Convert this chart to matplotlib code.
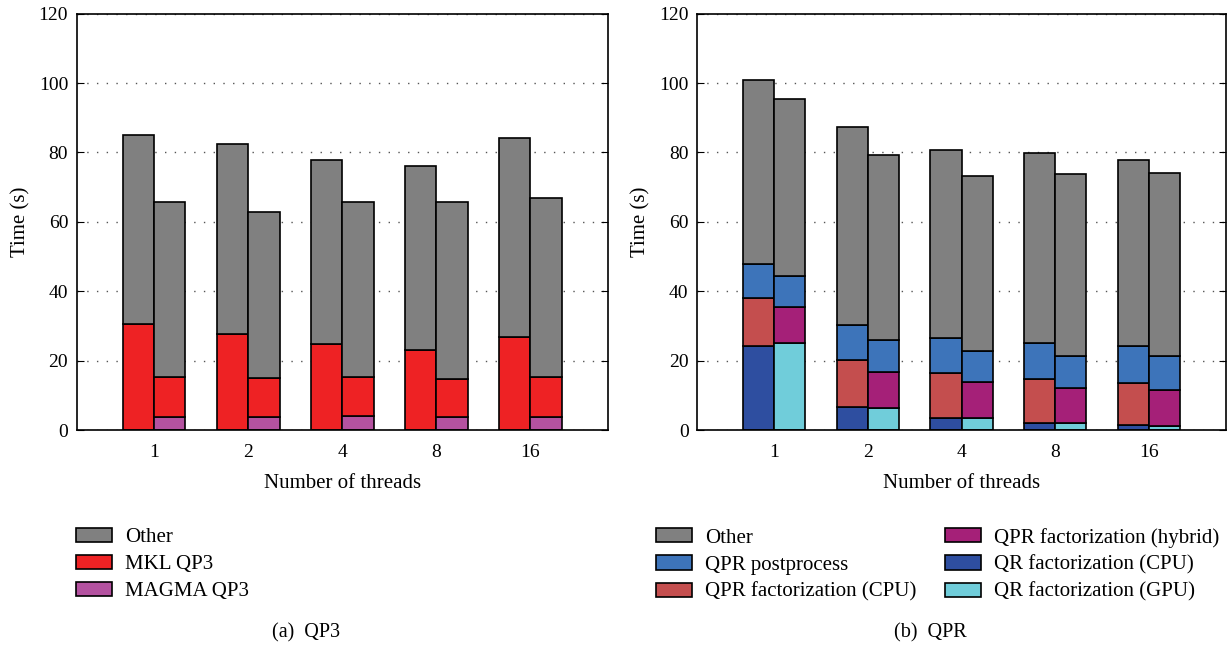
import matplotlib
matplotlib.use("Agg")
import matplotlib.pyplot as plt
import numpy as np
from matplotlib.patches import Patch

plt.rcParams['font.family'] = ['Liberation Serif', 'DejaVu Serif']

threads = ["1", "2", "4", "8", "16"]

# (a) QP3: CPU bar and hybrid bar per thread count
qp3_cpu_mkl = [30.5, 27.7, 24.7, 23.2, 26.8]
qp3_cpu_other = [54.6, 54.7, 53.2, 52.8, 57.4]
qp3_gpu_magma = [3.9, 3.9, 4.0, 3.8, 3.9]
qp3_gpu_mkl = [11.3, 11.2, 11.2, 11.0, 11.3]
qp3_gpu_other = [50.4, 47.7, 50.5, 50.9, 51.7]

# (b) QPR: CPU bar and hybrid bar per thread count
qpr_cpu_qr = [24.4, 6.6, 3.6, 2.2, 1.4]
qpr_cpu_fact = [13.7, 13.6, 12.9, 12.6, 12.3]
qpr_cpu_post = [9.9, 10.1, 10.2, 10.2, 10.5]
qpr_cpu_other = [52.8, 56.9, 53.9, 54.8, 53.5]
qpr_gpu_qr = [25.0, 6.4, 3.4, 2.0, 1.2]
qpr_gpu_fact = [10.6, 10.5, 10.4, 10.3, 10.4]
qpr_gpu_post = [8.8, 9.0, 8.9, 9.0, 9.7]
qpr_gpu_other = [51.1, 53.4, 50.4, 52.6, 52.9]

c_other = '#808080'
c_mkl = '#ee2224'
c_magma = '#b452a0'
c_post = '#3d74ba'
c_qprcpu = '#c44e4e'
c_hybrid = '#a52078'
c_qrcpu = '#2e4ea0'
c_qrgpu = '#70cdda'

fig = plt.figure(figsize=(12.32, 6.46), dpi=100)
ax1 = fig.add_axes([0.0621, 0.334, 0.4314, 0.645])
ax2 = fig.add_axes([0.5657, 0.334, 0.4295, 0.645])

x = np.arange(1, len(threads) + 1)
w = 1 / 3
ekw = dict(edgecolor='black', linewidth=1.2)


def stack(ax, pos, parts, colors):
    bottom = np.zeros(len(pos))
    for vals, col in zip(parts, colors):
        ax.bar(pos, vals, w, bottom=bottom, color=col, **ekw)
        bottom += np.array(vals)


stack(ax1, x - w / 2, [qp3_cpu_mkl, qp3_cpu_other], [c_mkl, c_other])
stack(ax1, x + w / 2, [qp3_gpu_magma, qp3_gpu_mkl, qp3_gpu_other], [c_magma, c_mkl, c_other])

stack(ax2, x - w / 2, [qpr_cpu_qr, qpr_cpu_fact, qpr_cpu_post, qpr_cpu_other],
      [c_qrcpu, c_qprcpu, c_post, c_other])
stack(ax2, x + w / 2, [qpr_gpu_qr, qpr_gpu_fact, qpr_gpu_post, qpr_gpu_other],
      [c_qrgpu, c_hybrid, c_post, c_other])

for ax in (ax1, ax2):
    ax.set_xlim(0.176, 5.824)
    ax.set_ylim(0, 120)
    ax.set_yticks(range(0, 121, 20))
    ax.set_xticks(x)
    ax.set_xticklabels(threads)
    ax.set_axisbelow(True)
    ax.yaxis.grid(True, linestyle=(0, (1, 6)), color='#555555', linewidth=1)
    ax.tick_params(axis='y', direction='in', right=True, length=5, labelsize=14, pad=6)
    ax.tick_params(axis='x', length=0, labelsize=14, pad=10)
    ax.set_xlabel("Number of threads", fontsize=15, labelpad=9)
    ax.set_ylabel("Time (s)", fontsize=15, labelpad=6)
    for s in ax.spines.values():
        s.set_linewidth(1.2)

leg_kw = dict(frameon=False, fontsize=15, handlelength=1.73, handleheight=0.67,
              labelspacing=0.37, handletextpad=0.63, borderaxespad=0, borderpad=0)

h1 = [Patch(facecolor=c_other, **ekw), Patch(facecolor=c_mkl, **ekw),
      Patch(facecolor=c_magma, **ekw)]
fig.legend(h1, ["Other", "MKL QP3", "MAGMA QP3"], loc='upper left',
           bbox_to_anchor=(0.0614, 0.183), **leg_kw)

h2 = [Patch(facecolor=c, **ekw) for c in
      (c_other, c_post, c_qprcpu, c_hybrid, c_qrcpu, c_qrgpu)]
fig.legend(h2, ["Other", "QPR postprocess", "QPR factorization (CPU)",
                "QPR factorization (hybrid)", "QR factorization (CPU)",
                "QR factorization (GPU)"],
           loc='upper left', ncol=2, columnspacing=1.35,
           bbox_to_anchor=(0.5325, 0.183), **leg_kw)

fig.text(0.2484, 0.0132, "(a)  QP3", ha='center', va='baseline', fontsize=14.5)
fig.text(0.7549, 0.0132, "(b)  QPR", ha='center', va='baseline', fontsize=14.5)

fig.savefig("out.png", dpi=100)
